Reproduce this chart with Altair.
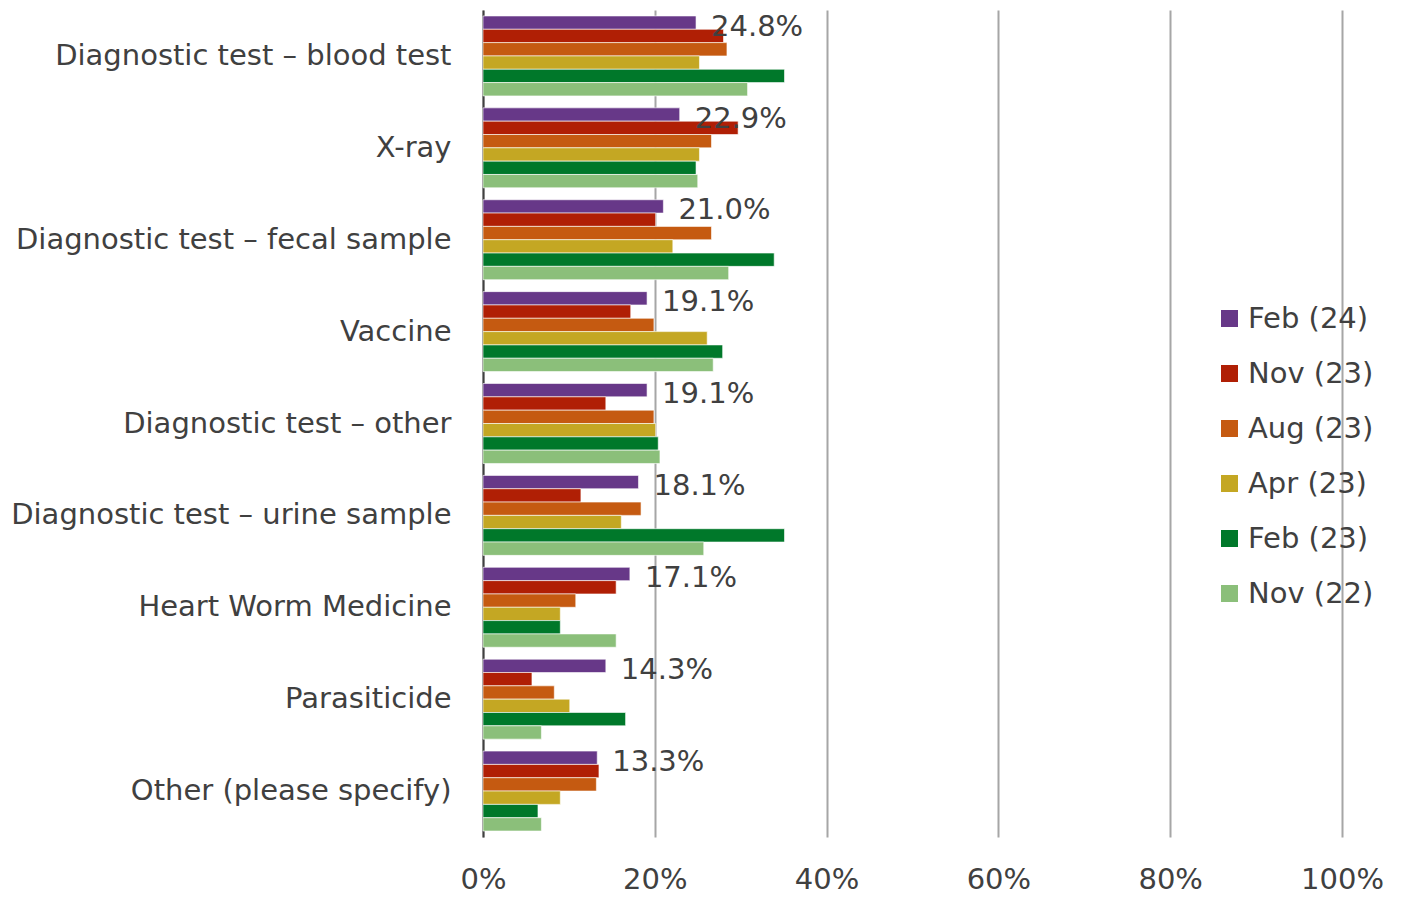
import altair as alt
import pandas as pd

categories = [
    "Diagnostic test – blood test",
    "X-ray",
    "Diagnostic test – fecal sample",
    "Vaccine",
    "Diagnostic test – other",
    "Diagnostic test – urine sample",
    "Heart Worm Medicine",
    "Parasiticide",
    "Other (please specify)",
]
series = ["Feb (24)", "Nov (23)", "Aug (23)", "Apr (23)", "Feb (23)", "Nov (22)"]
colors = ["#673888", "#B01F05", "#C55A11", "#C4A723", "#00782A", "#8BBF7A"]

feb24 = [24.8, 22.9, 21.0, 19.1, 19.1, 18.1, 17.1, 14.3, 13.3]
nov23 = [28.0, 29.7, 20.1, 17.2, 14.3, 11.4, 15.5, 5.7, 13.5]
aug23 = [28.4, 26.6, 26.6, 19.9, 19.9, 18.4, 10.8, 8.3, 13.2]
apr23 = [25.2, 25.2, 22.1, 26.1, 20.1, 16.1, 9.0, 10.1, 9.0]
feb23 = [35.1, 24.8, 33.9, 27.9, 20.4, 35.1, 9.0, 16.6, 6.4]
nov22 = [30.8, 25.0, 28.6, 26.8, 20.6, 25.7, 15.5, 6.8, 6.8]

rows = []
for s, vals in zip(series, [feb24, nov23, aug23, apr23, feb23, nov22]):
    for c, v in zip(categories, vals):
        rows.append({"category": c, "series": s, "value": v / 100})
df = pd.DataFrame(rows)

FONT = "DejaVu Sans"
TXT = "#404040"
FS = 29

y_enc = alt.Y(
    "category:N",
    sort=categories,
    scale=alt.Scale(paddingInner=0.13, paddingOuter=0.065),
    axis=alt.Axis(
        title=None, ticks=False, domain=True, domainColor="#404040", domainWidth=2,
        labelFontSize=FS, labelColor=TXT, labelFont=FONT, labelPadding=32,
        labelLimit=600, grid=False,
    ),
)
yoff_enc = alt.YOffset("series:N", sort=series, scale=alt.Scale(domain=series, paddingInner=0, paddingOuter=0))

x_enc = alt.X(
    "value:Q",
    scale=alt.Scale(domain=[0, 1], nice=False),
    axis=alt.Axis(
        title=None, format=".0%", values=[0, 0.2, 0.4, 0.6, 0.8, 1.0],
        ticks=False, domain=False, grid=True, gridColor="#A6A6A6", gridWidth=2,
        labelFontSize=FS, labelColor=TXT, labelFont=FONT, labelPadding=28,
        labelFlush=False,
    ),
)

bars = alt.Chart(df).mark_bar(stroke="white", strokeWidth=0.6).encode(
    x=x_enc,
    y=y_enc,
    yOffset=yoff_enc,
    color=alt.Color(
        "series:N",
        sort=series,
        scale=alt.Scale(domain=series, range=colors),
        legend=alt.Legend(
            title=None, orient="none", legendX=732, legendY=294,
            symbolType="square", symbolSize=289, symbolStrokeWidth=0,
            labelFontSize=FS, labelColor=TXT, labelFont=FONT, labelOffset=4,
            rowPadding=25, padding=0,
        ),
    ),
)

labels = alt.Chart(df[df["series"] == "Feb (24)"]).mark_text(
    align="left", baseline="middle", dx=15, dy=4, fontSize=FS, font=FONT, color=TXT
).encode(
    x=alt.X("value:Q"),
    y=alt.Y("category:N", sort=categories),
    yOffset=alt.YOffset("series:N", sort=series),
    text=alt.Text("value:Q", format=".1%"),
)

chart = alt.layer(bars, labels).properties(
    width=859, height=827,
    background="white",
    autosize=alt.AutoSizeParams(type="none"),
    padding={"left": 475, "top": 2, "right": 50, "bottom": 60},
).configure_view(stroke=None)

chart.save("out.html", embed_options={"renderer": "svg", "actions": False})
